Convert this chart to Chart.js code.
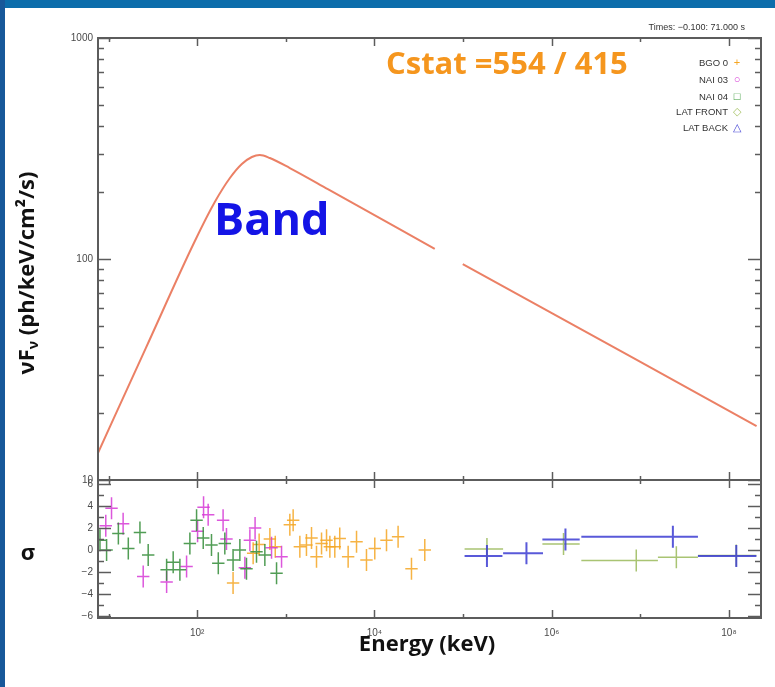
<!DOCTYPE html>
<html>
<head>
<meta charset="utf-8">
<title>Band fit</title>
<script src="https://cdn.jsdelivr.net/npm/chart.js@4.4.1/dist/chart.umd.min.js"></script>
<style>
    body {
        margin: 0;
        width: 775px;
        height: 687px;
        position: relative;
        overflow: hidden;
        background: #fff;
        font-family: "Open Sans", sans-serif;
    }
    canvas { position: absolute; left: 0; }
    #spectrumChart { top: 0; }
    #residualChart { top: 470px; }
    .bar-top { position: absolute; left: 0; top: 0; width: 775px; height: 8px; background: #0c6dab; }
    .bar-left { position: absolute; left: 0; top: 0; width: 5px; height: 687px; background: #17589a; }
    .note { position: absolute; white-space: nowrap; line-height: 1; font-weight: 700; }
    .cstat { left: 386px; top: 47px; font-size: 31px; color: #f5961e; }
    .model { left: 214px; top: 195px; font-size: 45px; color: #1414e6; }
    .x-title { left: 427px; top: 631px; font-size: 22px; color: #111; transform: translateX(-50%); }
    .y-title { left: 27px; top: 273px; font-size: 22px; color: #111; transform: translate(-50%, -50%) rotate(-90deg); }
    .y-title sub { font-size: 14px; vertical-align: -4px; }
    .sigma { left: 28px; top: 551px; font-size: 22px; color: #111; transform: translate(-50%, -50%); }
    .times { position: absolute; right: 30px; top: 22px; font: 9px "Liberation Sans", sans-serif; color: #333; white-space: nowrap; }
    .legend-row { position: absolute; right: 32px; font: 9.5px "Liberation Sans", sans-serif; color: #333; white-space: nowrap; line-height: 1; }
    .legend-row span { display: inline-block; width: 12px; text-align: center; margin-left: 3px; font-size: 11px; }
</style>
</head>
<body>
<div class="bar-top"></div>
<div class="bar-left"></div>

<canvas id="spectrumChart" width="775" height="490"></canvas>
<canvas id="residualChart" width="775" height="217"></canvas>

<div class="times">Times: −0.100: 71.000 s</div>
<div class="legend-row" style="top:57px">BGO 0<span style="color:#f5a623">+</span></div>
<div class="legend-row" style="top:74px">NAI 03<span style="color:#d63ad6">○</span></div>
<div class="legend-row" style="top:91px">NAI 04<span style="color:#3a9a3a">□</span></div>
<div class="legend-row" style="top:106px">LAT FRONT<span style="color:#a9c46a">◇</span></div>
<div class="legend-row" style="top:122px">LAT BACK<span style="color:#4a4ad6">△</span></div>

<div class="note cstat">Cstat =554 / 415</div>
<div class="note model">Band</div>
<div class="note y-title">νF<sub>ν</sub> (ph/keV/cm²/s)</div>
<div class="note sigma">σ</div>
<div class="note x-title">Energy (keV)</div>

<script>
    // energy axis (keV), shared by both panels
    const energyMin = 7.6;
    const energyMax = 2.3e8;
    const energyDecades = [1, 2, 3, 4, 5, 6, 7, 8];
    const energyLabelDecades = [2, 4, 6, 8];
    const energyTickLabels = ['10²', '10⁴', '10⁶', '10⁸'];

    // vF_v axis
    const fluxDecades = [10, 100, 1000];
    const fluxTickLabels = ['10', '100', '1000'];

    // residual axis (sigma)
    const sigmaTicks = [-6, -5, -4, -3, -2, -1, 0, 1, 2, 3, 4, 5, 6];
    const sigmaTickLabels = ['−6', '−4', '−2', '0', '2', '4', '6'];

    // Band model curve, null marks the break in the plotted line
    const modelEnergy = [7.59, 26.4, 94.2, 158, 234, 319, 414, 509, 660, 1110, 2980, 47900, 70000, 99200, 2.05e8];
    const modelFlux = [13.25, 39.6, 120.6, 181, 232.5, 269, 289.4, 295.5, 286.4, 258, 207.3, 111.2, null, 94.9, 17.55];

    // GBM residuals
    const bgoEnergy = [254, 428, 500, 661, 760, 1110, 1210, 1440, 1710, 1950, 2220, 2530, 2880, 3140, 3570, 4060, 5050, 6280, 8130, 10090, 13680, 18490, 26180, 36980];
    const bgoResid = [-3.0, -0.3, 0.5, 1.0, 0.3, 2.3, 2.7, 0.3, 0.45, 1.1, -0.6, 0.6, 0.9, 0.3, 0.3, 1.05, -0.6, 0.75, -0.9, 0.15, 0.9, 1.2, -1.7, 0.0];

    const nai03Energy = [9.3, 10.8, 14.6, 24.6, 45.2, 75.9, 101, 118, 133, 196, 214, 345, 393, 450, 690, 895];
    const nai03Resid = [2.2, 3.8, 2.4, -2.4, -2.9, -1.5, 1.7, 3.9, 3.2, 2.7, 1.0, -1.6, 0.9, 2.0, 0.2, -0.6];

    const nai04Energy = [8.0, 9.5, 12.9, 16.7, 22.6, 28.0, 45.2, 53.6, 63.8, 82.7, 98.4, 117, 145, 173, 205, 254, 303, 360, 467, 580, 786];
    const nai04Resid = [0.9, 0.0, 1.5, 0.15, 1.6, -0.45, -1.8, -1.1, -1.8, 0.6, 2.7, 1.1, 0.45, -1.2, 0.6, -0.9, 0.0, -1.7, -0.15, -0.45, -2.1];

    // GBM channel half-width, in decades
    const gbmHalfBin = 0.07;

    // LAT residuals with their energy bins
    const latFrontEnergy = [1.86e5, 1.36e6, 9.0e6, 2.55e7, 1.21e8];
    const latFrontLow = [1.04e5, 7.85e5, 2.16e6, 1.58e7, 4.47e7];
    const latFrontHigh = [2.83e5, 2.07e6, 1.58e7, 4.47e7, 2.04e8];
    const latFrontResid = [0.1, 0.55, -0.95, -0.65, -0.5];

    const latBackEnergy = [1.86e5, 5.19e5, 1.43e6, 2.33e7, 1.21e8];
    const latBackLow = [1.04e5, 2.83e5, 7.85e5, 2.16e6, 4.47e7];
    const latBackHigh = [2.78e5, 7.98e5, 2.07e6, 4.47e7, 2.04e8];
    const latBackResid = [-0.55, -0.3, 0.95, 1.2, -0.55];

    const gbmPoints = (energy, resid) => energy.map((e, i) => ({
        x: e,
        y: resid[i],
        lo: e / Math.pow(10, gbmHalfBin),
        hi: e * Math.pow(10, gbmHalfBin)
    }));

    const latPoints = (energy, low, high, resid) => energy.map((e, i) => ({
        x: e,
        y: resid[i],
        lo: low[i],
        hi: high[i]
    }));

    // frame, inward ticks and tick labels of a panel
    const panelFrame = {
        id: 'panelFrame',
        afterDraw(chart, args, opts) {
            const {ctx, chartArea: {left, right, top, bottom}, scales: {x, y}} = chart;

            const line = (x1, y1, x2, y2) => {
                ctx.beginPath();
                ctx.moveTo(x1, y1);
                ctx.lineTo(x2, y2);
                ctx.stroke();
            };

            ctx.save();
            ctx.strokeStyle = '#5c5c5c';
            ctx.lineWidth = 1.5;

            energyDecades.forEach(d => {
                const px = Math.round(x.getPixelForValue(Math.pow(10, d))) + 0.5;
                const len = d % 2 === 0 ? 8 : 4;
                line(px, top, px, top + len);
                line(px, bottom, px, bottom - len);
            });

            opts.yTicks.forEach(t => {
                const py = Math.round(y.getPixelForValue(t.value)) + 0.5;
                const len = t.major ? 13 : 6;
                line(left, py, left + len, py);
                line(right, py, right - len, py);
            });

            ctx.lineWidth = 2;
            ctx.strokeRect(left, top, right - left, bottom - top);

            ctx.fillStyle = '#4a4a4a';
            ctx.font = '10px "Liberation Sans", sans-serif';
            ctx.textAlign = 'right';
            ctx.textBaseline = 'middle';
            opts.yLabels.forEach(l => {
                ctx.fillText(l.text, left - 5, y.getPixelForValue(l.value));
            });

            if (opts.showEnergyLabels) {
                ctx.textAlign = 'center';
                energyLabelDecades.forEach((d, i) => {
                    ctx.fillText(energyTickLabels[i], x.getPixelForValue(Math.pow(10, d)), bottom + 15);
                });
            }
            ctx.restore();
        }
    };

    // horizontal bin + vertical 1 sigma bar for every residual
    const errorCrosses = {
        id: 'errorCrosses',
        afterDatasetsDraw(chart) {
            const {ctx, chartArea, scales: {x, y}} = chart;

            ctx.save();
            ctx.beginPath();
            ctx.rect(chartArea.left, chartArea.top, chartArea.right - chartArea.left, chartArea.bottom - chartArea.top);
            ctx.clip();

            chart.data.datasets.forEach(ds => {
                ctx.strokeStyle = ds.borderColor;
                ctx.lineWidth = ds.borderWidth;
                ds.data.forEach(p => {
                    const px = x.getPixelForValue(p.x);
                    const py = y.getPixelForValue(p.y);
                    ctx.beginPath();
                    ctx.moveTo(x.getPixelForValue(p.lo), py);
                    ctx.lineTo(x.getPixelForValue(p.hi), py);
                    ctx.moveTo(px, y.getPixelForValue(p.y - 1));
                    ctx.lineTo(px, y.getPixelForValue(p.y + 1));
                    ctx.stroke();
                });
            });
            ctx.restore();
        }
    };

    const fluxTicks = [];
    [10, 100].forEach(decade => {
        for (let m = 1; m < 10; m++) {
            fluxTicks.push({value: m * decade, major: m === 1});
        }
    });
    fluxTicks.push({value: 1000, major: true});

    new Chart(document.getElementById('spectrumChart'), {
        type: 'line',
        data: {
            datasets: [{
                data: modelEnergy.map((e, i) => ({x: e, y: modelFlux[i]})),
                borderColor: 'rgba(232, 106, 74, 0.85)',
                borderWidth: 2,
                pointRadius: 0,
                cubicInterpolationMode: 'monotone',
                spanGaps: false
            }]
        },
        options: {
            responsive: false,
            animation: false,
            layout: {
                padding: {left: 98, right: 14, top: 38, bottom: 10}
            },
            scales: {
                x: {type: 'logarithmic', min: energyMin, max: energyMax, display: false},
                y: {type: 'logarithmic', min: 10, max: 1000, display: false}
            },
            plugins: {
                legend: {display: false},
                tooltip: {enabled: false},
                panelFrame: {
                    yTicks: fluxTicks,
                    yLabels: fluxDecades.map((v, i) => ({value: v, text: fluxTickLabels[i]})),
                    showEnergyLabels: false
                }
            }
        },
        plugins: [panelFrame]
    });

    new Chart(document.getElementById('residualChart'), {
        type: 'scatter',
        data: {
            datasets: [
                {label: 'BGO 0', data: gbmPoints(bgoEnergy, bgoResid), borderColor: 'rgba(245, 166, 35, 0.85)', borderWidth: 1.5},
                {label: 'NAI 03', data: gbmPoints(nai03Energy, nai03Resid), borderColor: 'rgba(214, 58, 214, 0.85)', borderWidth: 1.5},
                {label: 'NAI 04', data: gbmPoints(nai04Energy, nai04Resid), borderColor: 'rgba(50, 140, 55, 0.85)', borderWidth: 1.5},
                {label: 'LAT FRONT', data: latPoints(latFrontEnergy, latFrontLow, latFrontHigh, latFrontResid), borderColor: 'rgba(160, 190, 100, 0.9)', borderWidth: 1.5},
                {label: 'LAT BACK', data: latPoints(latBackEnergy, latBackLow, latBackHigh, latBackResid), borderColor: 'rgba(60, 60, 210, 0.85)', borderWidth: 2}
            ]
        },
        options: {
            responsive: false,
            animation: false,
            elements: {point: {radius: 0}},
            layout: {
                padding: {left: 98, right: 14, top: 10, bottom: 69}
            },
            scales: {
                x: {type: 'logarithmic', min: energyMin, max: energyMax, display: false},
                y: {type: 'linear', min: -6.18, max: 6.37, display: false}
            },
            plugins: {
                legend: {display: false},
                tooltip: {enabled: false},
                panelFrame: {
                    yTicks: sigmaTicks.map(v => ({value: v, major: v % 2 === 0})),
                    yLabels: sigmaTicks.filter(v => v % 2 === 0).map((v, i) => ({value: v, text: sigmaTickLabels[i]})),
                    showEnergyLabels: true
                }
            }
        },
        plugins: [panelFrame, errorCrosses]
    });
</script>
</body>
</html>
